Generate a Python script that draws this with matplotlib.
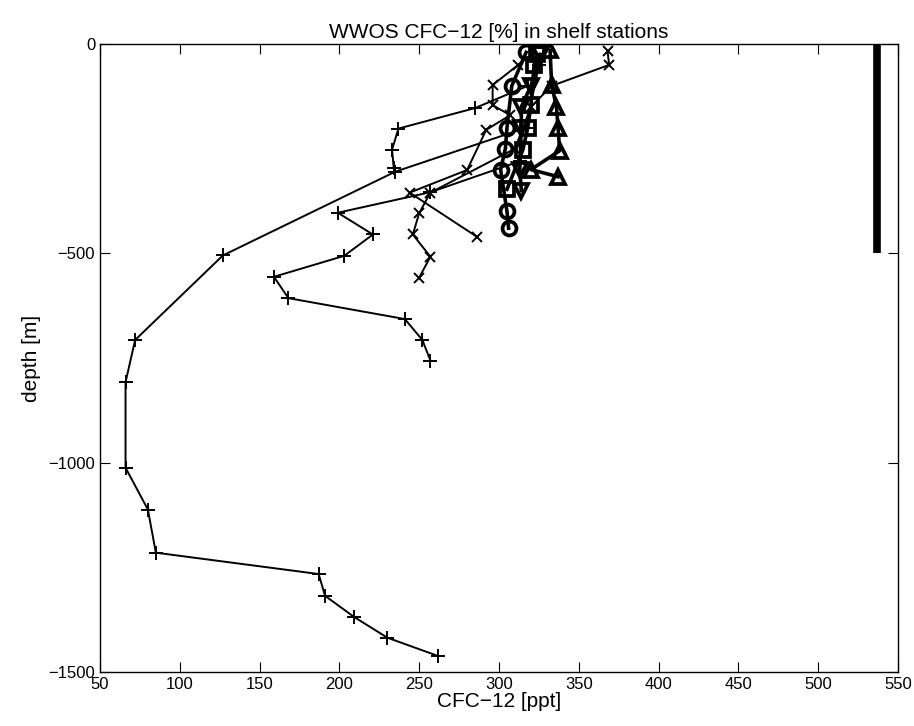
import matplotlib
matplotlib.use("Agg")
import matplotlib.pyplot as plt

plt.rcParams['font.family'] = ['Liberation Sans', 'DejaVu Sans']

# ---- data: thin "+" stations ----
p1_x = [325, 317, 235, 127, 72, 66, 66, 80, 85, 187, 191, 209, 230, 262]
p1_y = [-50, -200, -305, -505, -707, -808, -1012, -1112, -1215, -1266, -1318, -1368, -1418, -1462]
p2_x = [318, 285, 237, 233, 234]
p2_y = [-100, -153, -202, -252, -295]
p3_x = [313, 257, 199, 221, 203, 159, 168, 241, 252, 257]
p3_y = [-280, -354, -403, -455, -506, -556, -607, -657, -707, -756]

# ---- data: thin "x" stations ----
x1_x = [312, 296, 296, 307, 292, 280, 244, 286]
x1_y = [-50, -98, -146, -170, -205, -301, -355, -460]
x2_x = [368, 369, 333, 320, 310, 257, 250, 246, 257, 250]
x2_y = [-17, -50, -100, -150, -250, -355, -404, -455, -508, -558]

# ---- data: thick stations ----
o_x = [317, 308, 305, 304, 301, 305, 306]
o_y = [-20, -100, -200, -250, -300, -400, -440]
s_x = [324, 322, 320, 318, 315, 305]
s_y = [-25, -50, -146, -200, -252, -347]
v_x = [326, 320, 314, 314, 313, 314]
v_y = [-25, -100, -150, -200, -300, -350]
u_x = [332, 333, 336, 337, 338, 320, 337]
u_y = [-15, -98, -150, -200, -255, -300, -317]

# ---- shelf depth bar ----
bar_x = [537, 537]
bar_y = [0, -500]

fig = plt.figure(figsize=(9.14, 7.26), dpi=100)
ax = fig.add_axes([100/914, 1-672/726, 798/914, 628/726])

thin = dict(color='k', lw=1.4, ms=10, mew=1.4)
ax.plot(p1_x, p1_y, marker='+', **thin)
ax.plot(p2_x, p2_y, marker='+', **thin)
ax.plot(p3_x, p3_y, marker='+', **thin)
ax.plot(x1_x, x1_y, marker='x', **dict(thin, ms=7.5))
ax.plot(x2_x, x2_y, marker='x', **dict(thin, ms=7.5))

thick = dict(color='k', lw=2.6, ms=10, mew=2.7, mfc='none')
ax.plot(o_x, o_y, marker='o', **thick)
ax.plot(s_x, s_y, marker='s', **thick)
ax.plot(v_x, v_y, marker='v', **thick)
ax.plot(u_x, u_y, marker='^', **thick)

ax.plot(bar_x, bar_y, color='k', lw=5.5, solid_capstyle='butt')

ax.set_xlim(50, 550)
ax.set_ylim(-1500, 0)
ax.set_xticks(range(50, 551, 50))
ax.set_yticks([-1500, -1000, -500, 0])
ax.set_yticklabels(['\u22121500', '\u22121000', '\u2212500', '0'])
ax.tick_params(direction='in', top=True, right=True, length=7, labelsize=12)
for sp in ax.spines.values():
    sp.set_linewidth(1.0)

ax.set_xlabel('CFC\u221212 [ppt]', fontsize=15, labelpad=0)
ax.set_ylabel('depth [m]', fontsize=15, labelpad=5)
ax.set_title('WWOS CFC\u221212 [%] in shelf stations', fontsize=15, pad=4)

fig.savefig('out.png', dpi=100)
